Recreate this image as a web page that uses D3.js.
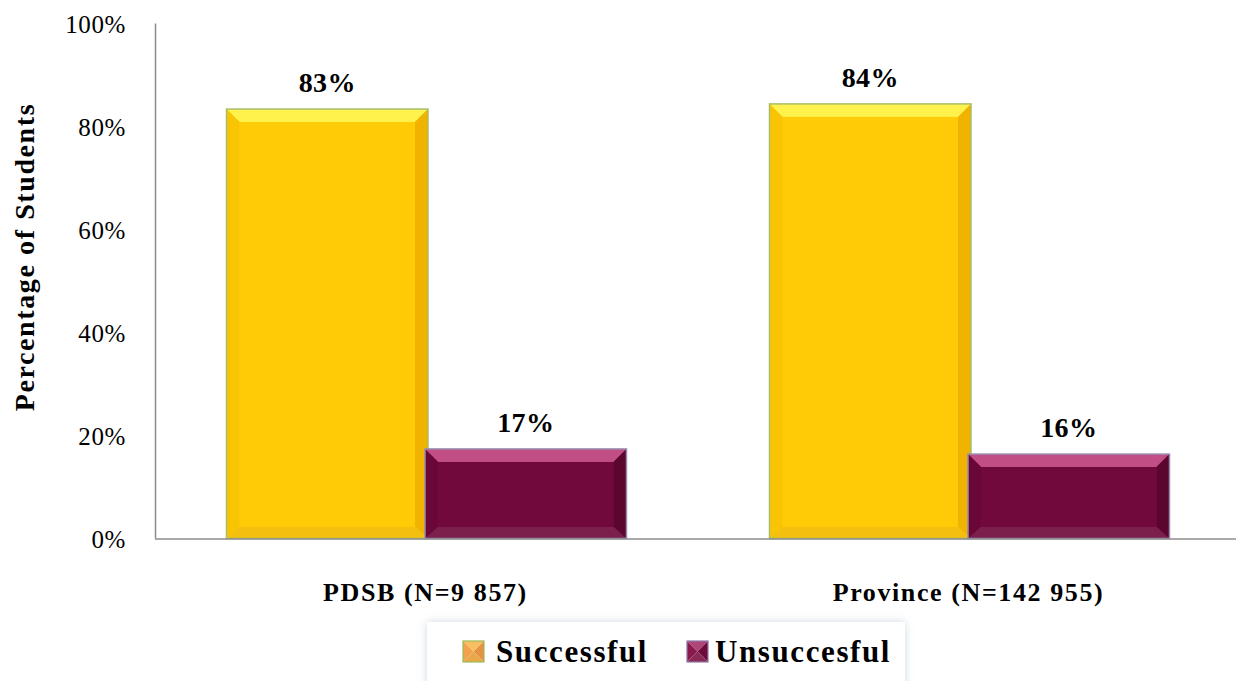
<!DOCTYPE html>
<html>
<head>
<meta charset="utf-8">
<script src="https://cdn.jsdelivr.net/npm/d3@7"></script>
<style>
  html, body { margin: 0; padding: 0; background: #fff; }
  svg { display: block; }
  text { font-family: "Palatino Linotype", "Book Antiqua", Palatino, "Liberation Serif", serif; fill: #000; }
</style>
</head>
<body>
<svg id="chart" width="1236" height="681"></svg>
<script>
// ---- data ----
const categories = ["PDSB (N=9 857)", "Province (N=142 955)"];
const seriesNames = ["Successful", "Unsuccesful"];
const successful = [83, 84];
const unsuccessful = [17, 16];
const yTicks = [0, 20, 40, 60, 80, 100];
const yTitle = "Percentage of Students";

// ---- styles ----
const pal = {
  Successful: { main: "#FECB06", top: "#FFF24C", left: "#F8C403", right: "#EFB300", bottom: "#F3C010", stroke: "#A7BE6A" },
  Unsuccesful: { main: "#72093C", top: "#C24E86", left: "#6B0737", right: "#5A062E", bottom: "#7B1F4C", stroke: "#9A8AAE" }
};
const FONT = '"Palatino Linotype", "Book Antiqua", Palatino, "Liberation Serif", serif';

const svg = d3.select("#chart");
const y = d3.scaleLinear().domain([0, 100]).range([538.5, 23.5]);
const x0 = d3.scaleBand().domain(categories).range([154, 1240]).padding(0);
const x1 = d3.scaleBand().domain(seriesNames).range([-199, 198]);

const rows = categories.map((c, i) => ({ cat: c, values: [
  { s: "Successful", v: successful[i] },
  { s: "Unsuccesful", v: unsuccessful[i] }
]}));

// ---- axes ----
const yAxis = d3.axisLeft(y).tickValues(yTicks).tickSize(0).tickPadding(0)
  .tickFormat(d => d + "%");
const ga = svg.append("g").attr("transform", "translate(126,0)").call(yAxis);
ga.select(".domain").remove();
ga.selectAll("text").attr("font-size", 25).attr("dy", "0.35em")
  .style("font-family", FONT).attr("fill", "#000").attr("letter-spacing", 0.6);

svg.append("line").attr("x1", 155.5).attr("x2", 155.5).attr("y1", y(100)).attr("y2", y(0))
  .attr("stroke", "#8c8c8c").attr("stroke-width", 1.5);

// ---- bars ----
const bev = 13;
const groups = svg.selectAll("g.cat").data(rows).join("g").attr("class", "cat")
  .attr("transform", d => `translate(${x0(d.cat) + x0.bandwidth() / 2},0)`);

const bars = groups.selectAll("g.bar").data(d => d.values).join("g").attr("class", "bar");
bars.each(function(d) {
  const g = d3.select(this);
  const p = pal[d.s];
  const L = x1(d.s), R = x1(d.s) + x1.bandwidth() + 3;
  const T = y(d.v) - 2, B = y(0);
  const iL = L + bev, iR = R - bev, iT = T + bev, iB = B - bev * 0.9;
  const poly = pts => pts.map(q => q.join(",")).join(" ");
  g.append("rect").attr("x", L).attr("y", T).attr("width", R - L).attr("height", B - T).attr("fill", p.main);
  g.append("polygon").attr("points", poly([[L, T], [R, T], [iR, iT], [iL, iT]])).attr("fill", p.top);
  g.append("polygon").attr("points", poly([[L, T], [iL, iT], [iL, iB], [L, B]])).attr("fill", p.left);
  g.append("polygon").attr("points", poly([[R, T], [R, B], [iR, iB], [iR, iT]])).attr("fill", p.right);
  g.append("polygon").attr("points", poly([[L, B], [iL, iB], [iR, iB], [R, B]])).attr("fill", p.bottom);
  g.append("rect").attr("x", iL).attr("y", iT).attr("width", iR - iL).attr("height", iB - iT).attr("fill", p.main);
  g.append("rect").attr("x", L).attr("y", T).attr("width", R - L).attr("height", B - T)
    .attr("fill", "none").attr("stroke", p.stroke).attr("stroke-width", 1.5);
  g.append("text").attr("x", (L + R) / 2).attr("y", T - 17).attr("text-anchor", "middle")
    .attr("font-size", 28).attr("font-weight", "bold").attr("letter-spacing", 0.3).text(d.v + "%");
});

// baseline
svg.append("line").attr("x1", 155).attr("x2", 1236).attr("y1", y(0) + 0.5).attr("y2", y(0) + 0.5)
  .attr("stroke", "#8c8c8c").attr("stroke-width", 1.5);

// ---- category labels ----
svg.selectAll("text.cat").data(categories).join("text").attr("class", "cat")
  .attr("x", d => x0(d) + x0.bandwidth() / 2).attr("y", 601)
  .attr("text-anchor", "middle").attr("font-size", 26).attr("font-weight", "bold")
  .attr("letter-spacing", 1.6).text(d => d);

// ---- y title ----
svg.append("text").attr("transform", "translate(34,257) rotate(-90)")
  .attr("text-anchor", "middle").attr("font-size", 28).attr("font-weight", "bold")
  .attr("letter-spacing", 1.6).text(yTitle);

// ---- legend ----
const defs = svg.append("defs");
const f = defs.append("filter").attr("id", "shadow").attr("x", "-10%").attr("y", "-40%").attr("width", "120%").attr("height", "180%");
f.append("feDropShadow").attr("dx", 0).attr("dy", 0).attr("stdDeviation", 4)
  .attr("flood-color", "#8fa9bf").attr("flood-opacity", 0.45);

svg.append("rect").attr("x", 427).attr("y", 622).attr("width", 478).attr("height", 80)
  .attr("fill", "#fff").attr("filter", "url(#shadow)");

const legendItems = [
  { s: seriesNames[0], x: 463, tx: 496, tri: ["#F9BE62", "#F2A24E", "#E79243", "#E8A84A"], stroke: "#9BBB59" },
  { s: seriesNames[1], x: 687, tx: 715, tri: ["#B0457A", "#8A1A4D", "#6E0B3C", "#8A2856"], stroke: "#8E7AA8" }
];
legendItems.forEach(it => {
  const g = svg.append("g").attr("transform", `translate(${it.x},641)`);
  const s = 21, c = s / 2;
  const tris = [
    [[0, 0], [s, 0], [c, c]],
    [[0, 0], [c, c], [0, s]],
    [[s, 0], [s, s], [c, c]],
    [[0, s], [c, c], [s, s]]
  ];
  tris.forEach((t, i) => g.append("polygon").attr("points", t.map(q => q.join(",")).join(" ")).attr("fill", it.tri[i]));
  g.append("rect").attr("width", s).attr("height", s).attr("fill", "none").attr("stroke", it.stroke).attr("stroke-width", 1.2);
  svg.append("text").attr("x", it.tx).attr("y", 662).attr("font-size", 31).attr("font-weight", "bold")
    .attr("letter-spacing", 1.6).text(it.s);
});
</script>
</body>
</html>
